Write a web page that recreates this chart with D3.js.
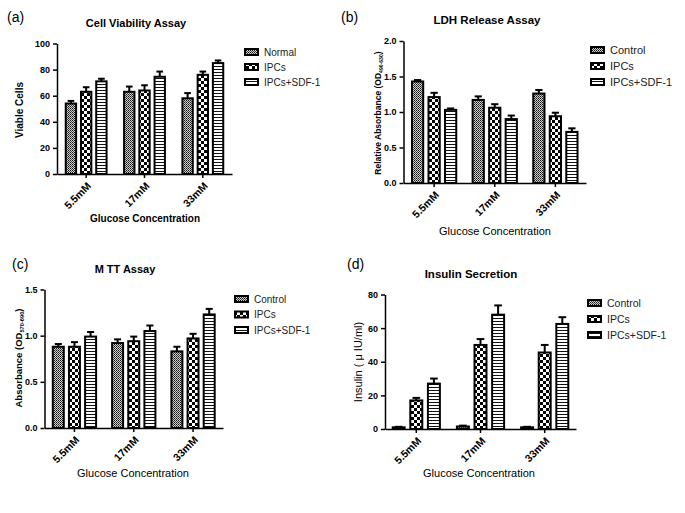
<!DOCTYPE html>
<html>
<head>
<meta charset="utf-8">
<script src="https://cdn.jsdelivr.net/npm/d3@7"></script>
<style>
  body { margin: 0; background: #fff; }
  svg { font-family: "Liberation Sans", Arial, sans-serif; }
  .axis path, .axis line { stroke: #000; stroke-width: 1.5; }
  .axis text { font-size: 9px; font-weight: bold; fill: #000; }
</style>
</head>
<body>
<div id="chart"></div>
<script>
// Shared categories
const concentrations = ["5.5mM", "17mM", "33mM"];

// (a) Cell viability - rows are series, columns are concentrations
const viabilitySeries = ["Normal", "IPCs", "IPCs+SDF-1"];
const viabilityMeans = [[54, 63, 58], [63, 64, 76], [71, 74.5, 85]];
const viabilityErrors = [[2, 4, 4], [3.5, 4, 2.5], [2, 4, 2]];
const viabilityTicks = [0, 20, 40, 60, 80, 100];

// (b) LDH release
const ldhSeries = ["Control", "IPCs", "IPCs+SDF-1"];
const ldhMeans = [[1.43, 1.17, 1.26], [1.21, 1.06, 0.94], [1.03, 0.90, 0.72]];
const ldhErrors = [[0.02, 0.05, 0.05], [0.06, 0.05, 0.05], [0.02, 0.05, 0.05]];
const ldhTicks = [0, 0.5, 1.0, 1.5, 2.0];

// (c) MTT
const mttSeries = ["Control", "IPCs", "IPCs+SDF-1"];
const mttMeans = [[0.88, 0.92, 0.83], [0.88, 0.94, 0.97], [0.99, 1.05, 1.23]];
const mttErrors = [[0.03, 0.04, 0.05], [0.05, 0.05, 0.05], [0.05, 0.06, 0.06]];
const mttTicks = [0, 0.5, 1.0, 1.5];

// (d) Insulin secretion
const insulinSeries = ["Control", "IPCs", "IPCs+SDF-1"];
const insulinMeans = [[1, 1.5, 1], [17, 50, 45.5], [27, 68, 62.5]];
const insulinErrors = [[0.3, 0.5, 0.3], [1.5, 3.5, 4.5], [3, 5.5, 4]];
const insulinTicks = [0, 20, 40, 60, 80];

const svg = d3.select("#chart").append("svg")
    .attr("width", 685)
    .attr("height", 513);

// Fill patterns: fine dither, big checker, horizontal stripes
const defs = svg.append("defs");

var p1 = defs.append("pattern").attr("id", "pat0")
    .attr("patternUnits", "userSpaceOnUse").attr("width", 2).attr("height", 2);
p1.append("rect").attr("width", 2).attr("height", 2).attr("fill", "#d0d0d0");
p1.append("rect").attr("width", 1).attr("height", 1).attr("fill", "#111");
p1.append("rect").attr("x", 1).attr("y", 1).attr("width", 1).attr("height", 1).attr("fill", "#444");

var p2 = defs.append("pattern").attr("id", "pat1")
    .attr("patternUnits", "userSpaceOnUse").attr("width", 6).attr("height", 6);
p2.append("rect").attr("width", 6).attr("height", 6).attr("fill", "#fff");
p2.append("rect").attr("width", 3).attr("height", 3).attr("fill", "#000");
p2.append("rect").attr("x", 3).attr("y", 3).attr("width", 3).attr("height", 3).attr("fill", "#000");

var p3 = defs.append("pattern").attr("id", "pat2")
    .attr("patternUnits", "userSpaceOnUse").attr("width", 4).attr("height", 3);
p3.append("rect").attr("width", 4).attr("height", 3).attr("fill", "#fff");
p3.append("rect").attr("width", 4).attr("height", 1).attr("fill", "#111");

/*
 * Draws one grouped bar panel
 */
function panel(cfg) {
    const g = svg.append("g");

    const x0 = d3.scaleBand()
        .domain(concentrations)
        .range([cfg.left, cfg.right])
        .paddingInner(cfg.padIn)
        .paddingOuter(cfg.padOut);

    const x1 = d3.scaleBand()
        .domain(d3.range(cfg.series.length))
        .range([0, x0.bandwidth()])
        .paddingInner(0.32);

    const y = d3.scaleLinear()
        .domain(cfg.domain)
        .range([cfg.bottom, cfg.top]);

    // bars + error bars
    cfg.means.forEach(function (row, s) {
        row.forEach(function (v, i) {
            const bx = x0(concentrations[i]) + x1(s);
            const bw = x1.bandwidth();
            const cx = bx + bw / 2;
            const top = y(v + cfg.errors[s][i]);
            g.append("line")
                .attr("x1", cx).attr("x2", cx)
                .attr("y1", y(v)).attr("y2", top)
                .attr("stroke", "#000").attr("stroke-width", 2);
            g.append("line")
                .attr("x1", cx - bw * 0.32).attr("x2", cx + bw * 0.32)
                .attr("y1", top).attr("y2", top)
                .attr("stroke", "#000").attr("stroke-width", 2);
            g.append("rect")
                .attr("x", bx).attr("y", y(v))
                .attr("width", bw).attr("height", y(0) - y(v))
                .attr("fill", "url(#pat" + s + ")")
                .attr("stroke", "#000").attr("stroke-width", 2);
        });
    });

    // axes
    g.append("g")
        .attr("class", "axis")
        .attr("transform", "translate(" + cfg.left + ",0)")
        .call(d3.axisLeft(y).tickValues(cfg.ticks).tickSize(4).tickSizeOuter(0)
            .tickFormat(cfg.fmt));

    const xa = g.append("g")
        .attr("class", "axis")
        .attr("transform", "translate(0," + cfg.bottom + ")")
        .call(d3.axisBottom(x0).tickSize(4).tickSizeOuter(0));
    xa.selectAll("text")
        .attr("text-anchor", "end")
        .style("font-size", "10.5px")
        .attr("x", 0).attr("y", 0)
        .attr("dx", 0).attr("dy", "0.35em")
        .attr("transform", "translate(3,10) rotate(-45)");

    // texts
    svg.append("text")
        .attr("x", cfg.labX).attr("y", cfg.labY)
        .attr("font-size", 14).text(cfg.label);

    svg.append("text")
        .attr("x", cfg.titleX).attr("y", cfg.titleY)
        .attr("text-anchor", "middle")
        .attr("font-size", cfg.titleSize).attr("font-weight", "bold")
        .text(cfg.title);

    svg.append("text")
        .attr("x", cfg.xTitleX).attr("y", cfg.xTitleY)
        .attr("text-anchor", "middle")
        .attr("font-size", cfg.xTitleSize).attr("font-weight", cfg.xTitleWeight)
        .text("Glucose Concentration");

    const yl = svg.append("text")
        .attr("transform", "translate(" + cfg.yTitleX + "," + cfg.yTitleY + ") rotate(-90)")
        .attr("text-anchor", "middle")
        .attr("font-size", cfg.yTitleSize).attr("font-weight", cfg.yTitleWeight)
        .text(cfg.yTitle);
    if (cfg.ySub) {
        yl.append("tspan").attr("font-size", cfg.yTitleSize * 0.6).attr("dy", 2).text(cfg.ySub);
        yl.append("tspan").attr("dy", -2).text(")");
    }

    // legend
    const lg = svg.append("g");
    cfg.series.forEach(function (name, s) {
        const ly = cfg.legY + s * cfg.legStep;
        lg.append("rect")
            .attr("x", cfg.legX).attr("y", ly - 3)
            .attr("width", 13).attr("height", 6)
            .attr("fill", "url(#pat" + s + ")")
            .attr("stroke", "#000").attr("stroke-width", 2);
        lg.append("text")
            .attr("x", cfg.legX + 19).attr("y", ly)
            .attr("dy", "0.35em")
            .attr("font-size", cfg.legSize)
            .attr("fill", "#222")
            .text(name);
    });
}

panel({
    series: viabilitySeries, means: viabilityMeans, errors: viabilityErrors,
    ticks: viabilityTicks, domain: [0, 100], fmt: d3.format("d"),
    left: 57, right: 232, top: 43.5, bottom: 174, padIn: 0.3, padOut: 0.15,
    label: "(a)", labX: 7, labY: 22,
    title: "Cell Viability Assay", titleX: 136, titleY: 27, titleSize: 11,
    xTitleX: 145, xTitleY: 222, xTitleSize: 10, xTitleWeight: "bold",
    yTitle: "Viable Cells", yTitleX: 23, yTitleY: 110, yTitleSize: 10, yTitleWeight: "bold",
    legX: 245, legY: 52, legStep: 15, legSize: 10
});

panel({
    series: ldhSeries, means: ldhMeans, errors: ldhErrors,
    ticks: ldhTicks, domain: [0, 2], fmt: d3.format(".1f"),
    left: 403.5, right: 586, top: 41, bottom: 183, padIn: 0.27, padOut: 0.14,
    label: "(b)", labX: 341, labY: 22,
    title: "LDH Release Assay", titleX: 487, titleY: 24, titleSize: 11.5,
    xTitleX: 495, xTitleY: 235, xTitleSize: 11, xTitleWeight: "normal",
    yTitle: "Relative Absorbance (OD", ySub: "490-630", yTitleX: 381, yTitleY: 113, yTitleSize: 8.5, yTitleWeight: "bold",
    legX: 591, legY: 50, legStep: 16, legSize: 11
});

panel({
    series: mttSeries, means: mttMeans, errors: mttErrors,
    ticks: mttTicks, domain: [0, 1.5], fmt: d3.format(".1f"),
    left: 44.5, right: 223, top: 289.5, bottom: 428, padIn: 0.27, padOut: 0.14,
    label: "(c)", labX: 12, labY: 269,
    title: "M TT Assay", titleX: 125, titleY: 273, titleSize: 11,
    xTitleX: 133, xTitleY: 477, xTitleSize: 11, xTitleWeight: "normal",
    yTitle: "Absorbance (OD", ySub: "570-690", yTitleX: 22, yTitleY: 358, yTitleSize: 9.5, yTitleWeight: "bold",
    legX: 235, legY: 299, legStep: 15.5, legSize: 10
});

panel({
    series: insulinSeries, means: insulinMeans, errors: insulinErrors,
    ticks: insulinTicks, domain: [0, 80], fmt: d3.format("d"),
    left: 385, right: 576, top: 294.5, bottom: 429, padIn: 0.265, padOut: 0.12,
    label: "(d)", labX: 347, labY: 269,
    title: "Insulin Secretion", titleX: 471, titleY: 278, titleSize: 11.5,
    xTitleX: 479, xTitleY: 477, xTitleSize: 11, xTitleWeight: "normal",
    yTitle: "Insulin ( \u03bc IU/ml)", yTitleX: 362, yTitleY: 362, yTitleSize: 11, yTitleWeight: "normal",
    legX: 588, legY: 303, legStep: 16, legSize: 10.5
});
</script>
</body>
</html>
